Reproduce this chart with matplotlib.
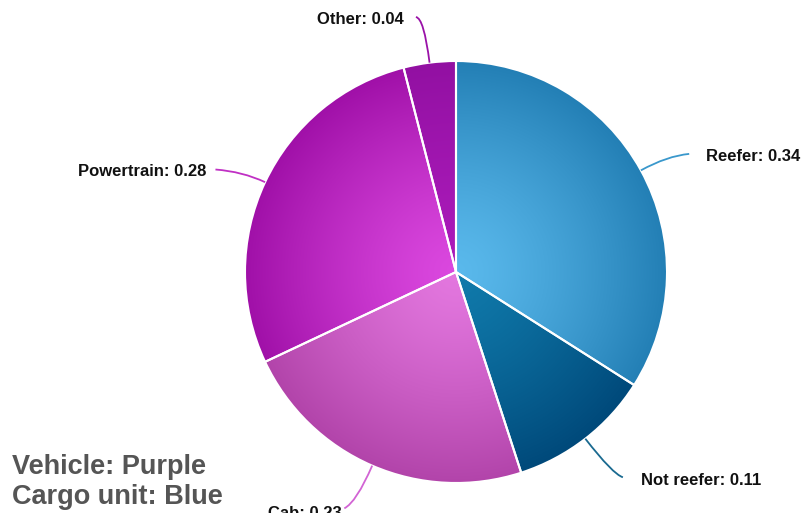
import numpy as np
import matplotlib
matplotlib.use("Agg")
import matplotlib.pyplot as plt
from matplotlib.path import Path
from matplotlib.patches import PathPatch
from matplotlib.colors import to_rgb

plt.rcParams['font.family'] = ['Liberation Sans', 'DejaVu Sans']

# data
labels = ['Reefer', 'Not reefer', 'Cab', 'Powertrain', 'Other']
values = [0.34, 0.11, 0.23, 0.28, 0.04]
# radial gradient per slice: inner colour, outer colour
inner_cols = ['#5ab9ec', '#107aab', '#e377df', '#db48df', '#ab1bba']
outer_cols = ['#237fb5', '#00497a', '#b244aa', '#a010a8', '#9210a2']
line_cols = ['#3a98cc', '#1a6a90', '#d264d4', '#c030c4', '#9a12a8']
legend_lines = ['Vehicle: Purple', 'Cargo unit: Blue']

W, H = 808, 513
fig = plt.figure(figsize=(W / 100, H / 100), dpi=100)
ax = fig.add_axes([0, 0, 1, 1])

cx, cy, R = 456, H - 272, 211
wedges, _ = ax.pie(values, startangle=90, counterclock=False, radius=R,
                   center=(cx, cy), frame=True,
                   wedgeprops=dict(edgecolor='white', linewidth=1.5))
ax.set_xlim(0, W)
ax.set_ylim(0, H)
ax.axis('off')

# gradient fill clipped to each wedge
xs = np.linspace(cx - R, cx + R, 500)
ys = np.linspace(cy - R, cy + R, 500)
X, Y = np.meshgrid(xs, ys)
t = np.clip(np.hypot(X - cx, Y - cy) / R, 0, 1)[..., None] ** 1.3
for w, c0, c1 in zip(wedges, inner_cols, outer_cols):
    a, b = np.array(to_rgb(c0)), np.array(to_rgb(c1))
    img = a + (b - a) * t
    w.set_facecolor('none')
    im = ax.imshow(img, extent=(cx - R, cx + R, cy - R, cy + R),
                   origin='lower', zorder=1, interpolation='bilinear')
    im.set_clip_path(w)
    w.set_zorder(2)

# connectors + labels: (radial length, dx, dy, text gap, text drop)
offsets = [(30, 22, 2, 17, 3), (45, 10, -3, 18, 3), (40, -12, -6, -3, 5),
           (25, -27, 2, -9, 2), (45, -8, 1, -12, 2)]
for w, lab, v, lc, (d, dx, dy, gap, drop) in zip(wedges, labels, values,
                                                  line_cols, offsets):
    ang = np.deg2rad((w.theta1 + w.theta2) / 2)
    p0 = (cx + R * np.cos(ang), cy + R * np.sin(ang))
    p1 = (cx + (R + d) * np.cos(ang), cy + (R + d) * np.sin(ang))
    p2 = (p1[0] + dx, p1[1] + dy)
    path = Path([p0, p1, p2], [Path.MOVETO, Path.CURVE3, Path.CURVE3])
    ax.add_patch(PathPatch(path, fc='none', ec=lc, lw=1.3, zorder=3))
    ax.text(p2[0] + gap, p2[1] - drop, f'{lab}: {v:.2f}',
            ha='left' if gap > 0 else 'right', va='center', fontsize=12,
            fontweight='bold', color='#111111', zorder=4)

for i, s in enumerate(legend_lines):
    ax.text(12, H - 467 - 30 * i, s, ha='left', va='center', fontsize=19.5,
            fontweight='bold', color='#555555')

fig.savefig('out.png', dpi=100)
